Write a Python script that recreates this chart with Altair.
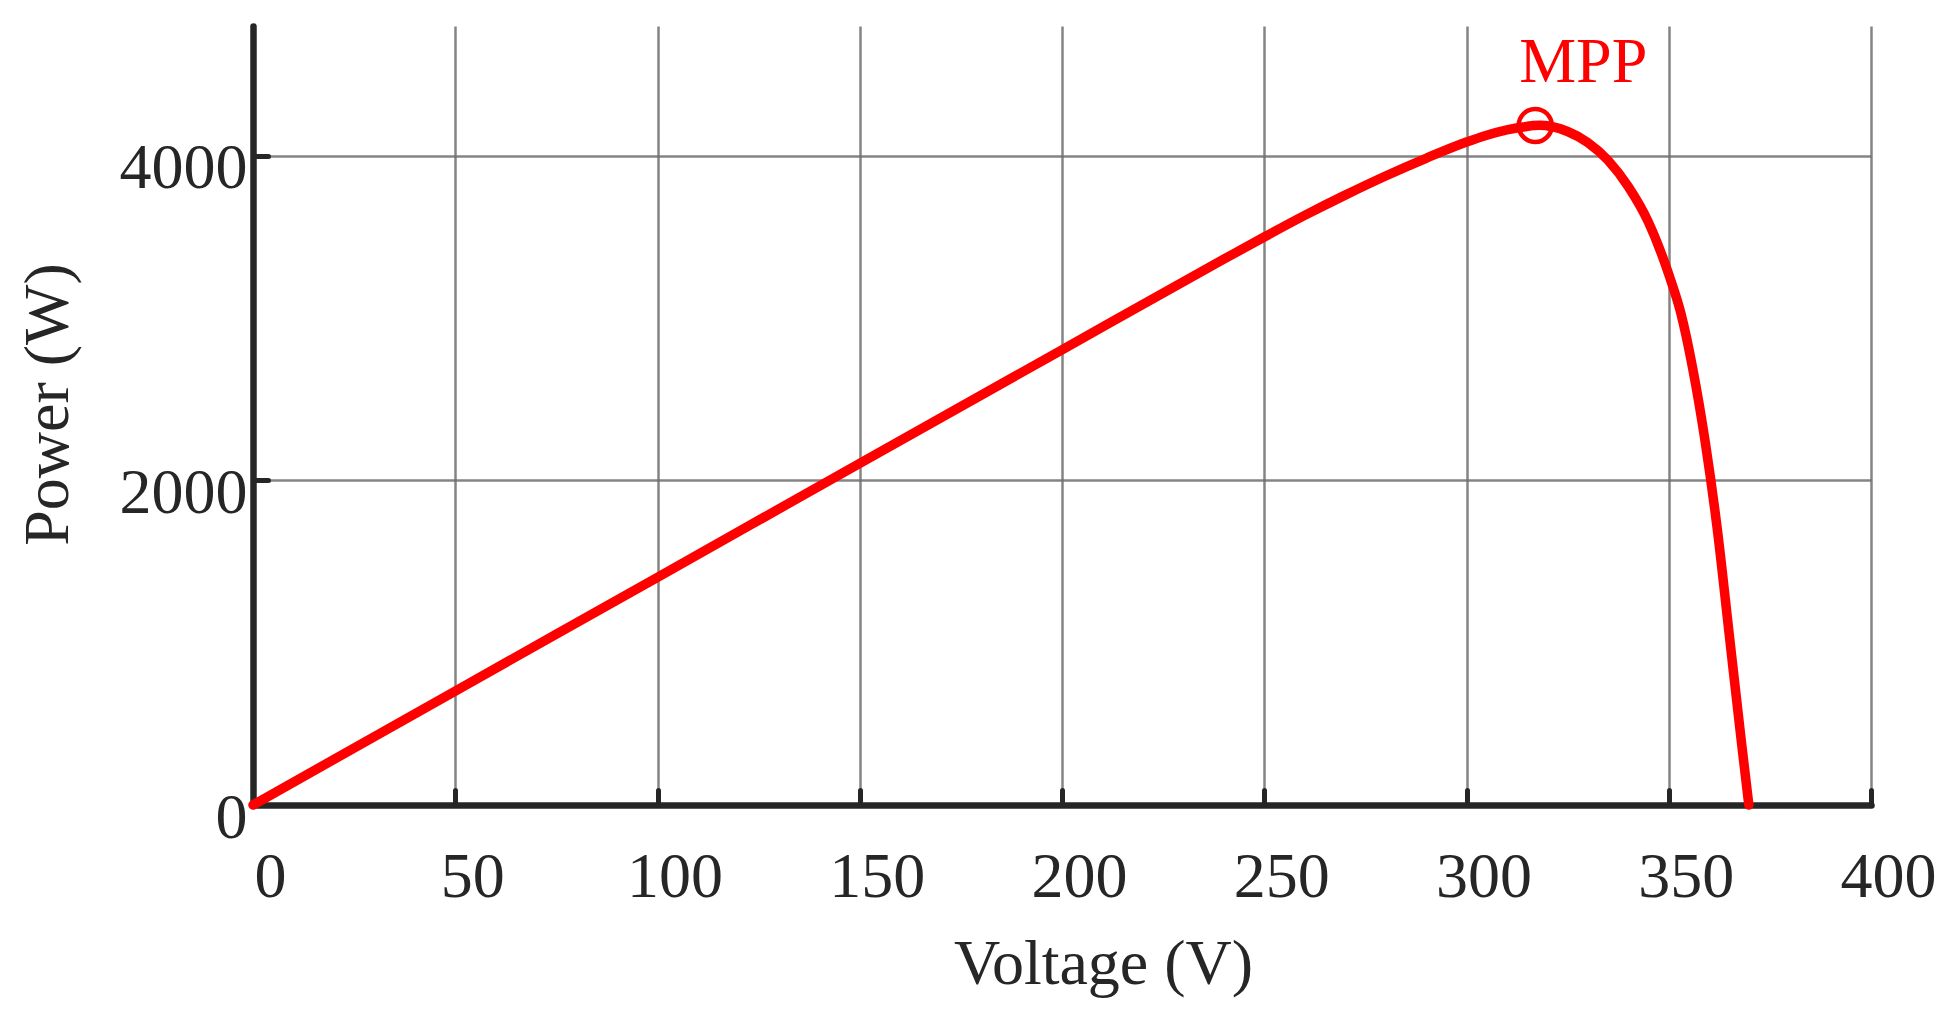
import altair as alt
import pandas as pd

# P-V curve
voltage = [0, 50, 100, 150, 200, 240, 250, 260, 270, 280, 290, 300, 305, 310,
           314, 318, 321, 325, 330, 335, 340, 345, 350, 353, 356, 359, 362,
           365, 368, 369.8]
power = [0, 702, 1403, 2105, 2805, 3363, 3500, 3633, 3758, 3876, 3985, 4085, 4127, 4160,
         4178, 4188, 4181, 4150, 4082, 3972, 3810, 3590, 3270, 3030, 2680, 2240, 1700,
         1040, 380, 0]

mpp_v = [317]
mpp_p = [4187]
mpp_label = ["MPP"]

x_ticks = [0, 50, 100, 150, 200, 250, 300, 350, 400]
y_ticks = [0, 2000, 4000]

df = pd.DataFrame({"V": voltage, "P": power})
mpp = pd.DataFrame({"V": mpp_v, "P": mpp_p, "label": mpp_label})

FONT = "Liberation Serif"
INK = "#262626"
FS = 64
W, H = 1618, 779

xscale = alt.Scale(domain=[0, 400], nice=False, zero=False)
yscale = alt.Scale(domain=[0, 4800], nice=False, zero=False)

line = alt.Chart(df).mark_line(
    color="#ff0000", strokeWidth=9.5, strokeCap="round", strokeJoin="round",
    interpolate="monotone", clip=False
).encode(
    x=alt.X("V:Q", scale=xscale, axis=alt.Axis(
        orient="bottom", values=x_ticks, title="Voltage (V)", grid=True, format="d",
        ticks=False, tickSize=0, labelPadding=40, labelOffset=17, labelFlush=False,
        labelFont=FONT, labelFontSize=FS, labelColor=INK,
        titleFont=FONT, titleFontSize=FS, titleColor=INK, titleFontWeight="normal",
        titleX=850, titleY=178, titleBaseline="alphabetic", titleAlign="center",
        domainColor=INK, domainWidth=6.5, domainCap="round",
        gridColor="#6e6e6e", gridWidth=2.5, gridOpacity=0.85,
    )),
    y=alt.Y("P:Q", scale=yscale, axis=alt.Axis(
        orient="left", values=y_ticks, title="Power (W)", grid=True, format="d",
        ticks=False, tickSize=0, labelPadding=6, labelBaseline="alphabetic",
        labelOffset=32, labelFont=FONT, labelFontSize=FS, labelColor=INK,
        titleFont=FONT, titleFontSize=FS, titleColor=INK, titleFontWeight="normal",
        titleX=-186, titleY=378, titleBaseline="alphabetic", titleAlign="center",
        titleAngle=270,
        domainColor=INK, domainWidth=6.5, domainCap="round",
        gridColor="#6e6e6e", gridWidth=2.5, gridOpacity=0.85,
    )),
)

point = alt.Chart(mpp).mark_point(
    shape="circle", filled=False, size=1100, strokeWidth=4.5,
    color="#ff0000", opacity=1
).encode(
    x=alt.X("V:Q", scale=xscale, axis=alt.Axis(
        orient="top", offset=-H, values=x_ticks[1:], labels=False, grid=False,
        domain=False, ticks=True, tickSize=15, tickWidth=5, tickColor=INK,
        tickCap="round", title=None,
    )),
    y=alt.Y("P:Q", scale=yscale, axis=alt.Axis(
        orient="right", offset=-W, values=y_ticks[1:], labels=False, grid=False,
        domain=False, ticks=True, tickSize=15, tickWidth=5, tickColor=INK,
        tickCap="round", title=None,
    )),
)

text = alt.Chart(mpp).mark_text(
    font=FONT, fontSize=FS, color="#ff0000", align="center",
    baseline="alphabetic", dx=48, dy=-43
).encode(
    x=alt.X("V:Q", scale=xscale, axis=None),
    y=alt.Y("P:Q", scale=yscale, axis=None),
    text="label:N",
)

chart = alt.layer(line, point, text).resolve_axis(
    x="independent", y="independent"
).properties(
    width=W, height=H,
    autosize=alt.AutoSizeParams(type="none"),
    padding={"left": 245, "top": 18, "right": 70, "bottom": 200},
    background="white",
).configure_view(stroke=None)

chart.save("out.html", embed_options={"renderer": "svg", "actions": False})
